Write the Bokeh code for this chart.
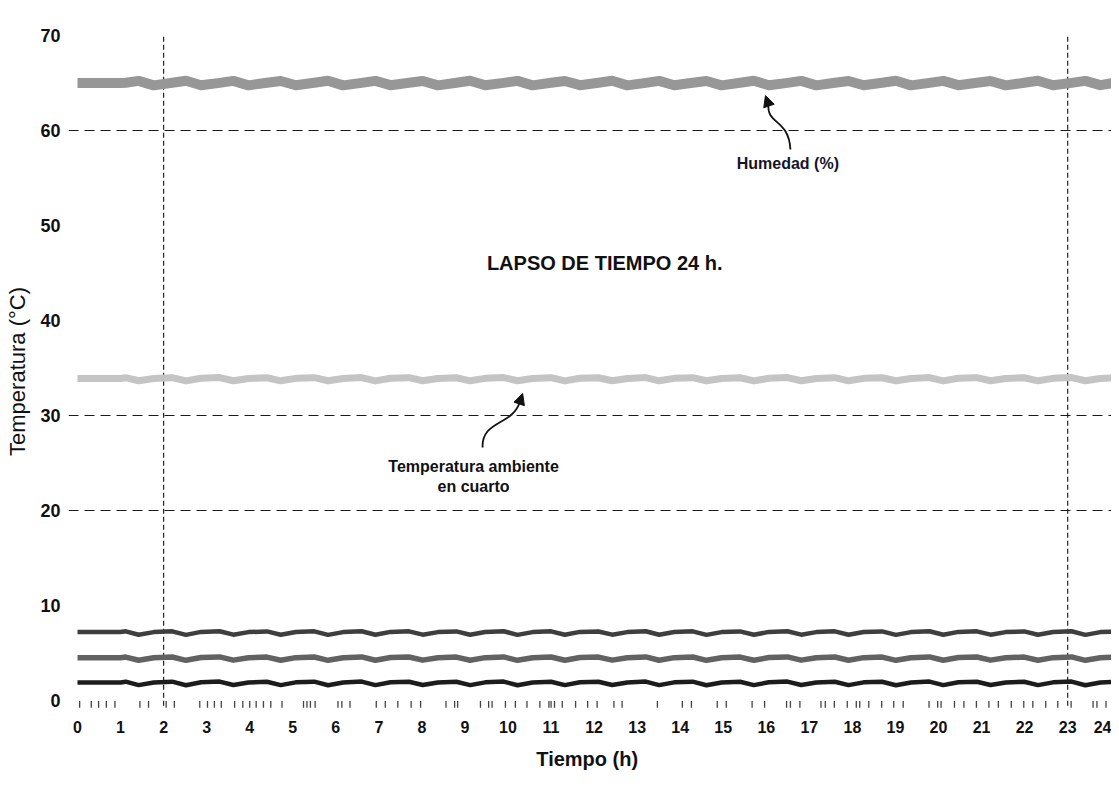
from bokeh.plotting import figure
from bokeh.models import Range1d, FixedTicker, Span, Label, Arrow, NormalHead
from bokeh.embed import file_html
from bokeh.resources import INLINE

# ---------------- data ----------------
hours = [0.0, 0.5, 1.0, 1.12,
         1.42, 1.77, 2.20,
         2.52, 2.87, 3.30,
         3.62, 3.97, 4.40,
         4.72, 5.07, 5.50,
         5.82, 6.17, 6.60,
         6.92, 7.27, 7.70,
         8.02, 8.37, 8.80,
         9.12, 9.47, 9.90,
         10.22, 10.57, 11.00,
         11.32, 11.67, 12.10,
         12.42, 12.77, 13.20,
         13.51, 13.86, 14.29,
         14.61, 14.96, 15.39,
         15.71, 16.06, 16.49,
         16.81, 17.16, 17.59,
         17.91, 18.26, 18.69,
         19.01, 19.36, 19.79,
         20.11, 20.46, 20.89,
         21.21, 21.56, 21.99,
         22.31, 22.66, 23.09,
         23.41, 23.76, 24.05]

humedad = [65.00, 65.00, 65.00, 65.02,
           65.22, 64.75, 65.02,
           65.24, 64.76, 65.01,
           65.22, 64.75, 65.03,
           65.21, 64.76, 65.02,
           65.23, 64.75, 65.01,
           65.22, 64.77, 65.03,
           65.21, 64.75, 65.02,
           65.24, 64.76, 65.01,
           65.22, 64.75, 65.03,
           65.21, 64.77, 65.02,
           65.23, 64.75, 65.01,
           65.22, 64.76, 65.03,
           65.21, 64.75, 65.02,
           65.24, 64.77, 65.01,
           65.22, 64.75, 65.03,
           65.21, 64.76, 65.02,
           65.23, 64.75, 65.01,
           65.22, 64.77, 65.03,
           65.21, 64.75, 65.02,
           65.24, 64.76, 65.01,
           65.22, 64.77, 65.00]

temp_ambiente = [33.90, 33.90, 33.90, 33.98,
                 33.66, 33.90, 33.98,
                 33.64, 33.92, 33.99,
                 33.66, 33.90, 33.97,
                 33.65, 33.91, 33.98,
                 33.66, 33.90, 33.99,
                 33.64, 33.92, 33.98,
                 33.66, 33.90, 33.97,
                 33.65, 33.91, 33.99,
                 33.66, 33.90, 33.98,
                 33.64, 33.92, 33.97,
                 33.66, 33.90, 33.99,
                 33.65, 33.91, 33.98,
                 33.66, 33.90, 33.97,
                 33.64, 33.92, 33.99,
                 33.66, 33.90, 33.98,
                 33.65, 33.91, 33.97,
                 33.66, 33.90, 33.99,
                 33.64, 33.92, 33.98,
                 33.66, 33.90, 33.97,
                 33.65, 33.91, 33.99,
                 33.66, 33.90, 33.95]

serie_alta = [7.20, 7.20, 7.20, 7.28,
              6.92, 7.20, 7.28,
              6.91, 7.22, 7.29,
              6.93, 7.20, 7.27,
              6.92, 7.21, 7.28,
              6.91, 7.20, 7.29,
              6.92, 7.22, 7.28,
              6.93, 7.20, 7.27,
              6.92, 7.21, 7.29,
              6.91, 7.20, 7.28,
              6.92, 7.22, 7.27,
              6.93, 7.20, 7.29,
              6.92, 7.21, 7.28,
              6.91, 7.20, 7.27,
              6.92, 7.22, 7.29,
              6.93, 7.20, 7.28,
              6.92, 7.21, 7.27,
              6.91, 7.20, 7.29,
              6.92, 7.22, 7.28,
              6.93, 7.20, 7.27,
              6.92, 7.21, 7.29,
              6.91, 7.20, 7.25]

serie_media = [4.50, 4.50, 4.50, 4.57,
               4.24, 4.50, 4.58,
               4.23, 4.52, 4.59,
               4.25, 4.50, 4.57,
               4.24, 4.51, 4.58,
               4.23, 4.50, 4.59,
               4.24, 4.52, 4.58,
               4.25, 4.50, 4.57,
               4.24, 4.51, 4.59,
               4.23, 4.50, 4.58,
               4.24, 4.52, 4.57,
               4.25, 4.50, 4.59,
               4.24, 4.51, 4.58,
               4.23, 4.50, 4.57,
               4.24, 4.52, 4.59,
               4.25, 4.50, 4.58,
               4.24, 4.51, 4.57,
               4.23, 4.50, 4.59,
               4.24, 4.52, 4.58,
               4.25, 4.50, 4.57,
               4.24, 4.51, 4.59,
               4.23, 4.50, 4.55]

serie_baja = [1.90, 1.90, 1.90, 1.98,
              1.62, 1.90, 1.98,
              1.61, 1.92, 1.99,
              1.63, 1.90, 1.97,
              1.62, 1.91, 1.98,
              1.61, 1.90, 1.99,
              1.62, 1.92, 1.98,
              1.63, 1.90, 1.97,
              1.62, 1.91, 1.99,
              1.61, 1.90, 1.98,
              1.62, 1.92, 1.97,
              1.63, 1.90, 1.99,
              1.62, 1.91, 1.98,
              1.61, 1.90, 1.97,
              1.62, 1.92, 1.99,
              1.63, 1.90, 1.98,
              1.62, 1.91, 1.97,
              1.61, 1.90, 1.99,
              1.62, 1.92, 1.98,
              1.63, 1.90, 1.97,
              1.62, 1.91, 1.99,
              1.61, 1.90, 1.95]

# irregular sample marks along the time axis
rug_hours = [0.05, 0.32, 0.49, 0.67, 0.87, 1.45, 1.65, 2.06, 2.25, 2.84, 3.02,
             3.18, 3.34, 3.65, 3.84, 4.00, 4.15, 4.32, 4.49, 4.75, 5.25, 5.33,
             5.41, 5.52, 6.05, 6.14, 6.33, 6.94, 7.15, 7.44, 7.75, 7.97, 8.56,
             8.76, 8.83, 9.36, 9.55, 9.63, 9.94, 10.17, 10.44, 10.74, 10.95,
             11.00, 11.08, 11.26, 11.57, 11.85, 12.07, 12.46, 12.65, 13.47,
             14.05, 14.26, 14.86, 15.07, 15.67, 15.96, 16.47, 16.56, 16.78,
             17.27, 17.37, 17.58, 17.88, 18.09, 18.17, 18.38, 18.68, 18.96,
             19.18, 19.78, 19.98, 20.06, 20.37, 20.59, 20.88, 21.17, 21.39,
             21.69, 21.98, 22.19, 22.49, 22.77, 23.08, 23.59, 23.68, 23.89]

x_ticks = list(range(0, 25))
y_ticks = [0, 10, 20, 30, 40, 50, 60, 70]
h_ref_lines = [20, 30, 60]
v_ref_lines = [2, 23]

title_text = "LAPSO DE TIEMPO  24 h."
label_humedad = "Humedad (%)"
label_temp = "Temperatura ambiente\nen cuarto"

FONT = "Liberation Sans"

p = figure(width=1111, height=779, output_backend="svg", toolbar_location=None,
           x_range=Range1d(-0.209, 24.018), y_range=Range1d(-1.263, 70.526),
           min_border_left=68, min_border_right=0, min_border_top=30,
           min_border_bottom=67)
p.outline_line_color = None
p.background_fill_color = "white"
p.border_fill_color = "white"
p.xgrid.visible = False
p.ygrid.visible = False

for ax in (p.xaxis[0], p.yaxis[0]):
    ax.axis_line_color = None
    ax.major_tick_line_color = None
    ax.minor_tick_line_color = None
    ax.major_tick_out = 0
    ax.major_tick_in = 0
    ax.major_label_text_font = FONT
    ax.major_label_text_font_style = "bold"
    ax.major_label_text_color = "#111111"
    ax.axis_label_text_font = FONT
    ax.axis_label_text_color = "#111111"

p.xaxis.ticker = FixedTicker(ticks=x_ticks)
p.yaxis.ticker = FixedTicker(ticks=y_ticks)
p.xaxis.major_label_text_font_size = "16px"
p.yaxis.major_label_text_font_size = "18px"
p.xaxis.major_label_standoff = 8
p.yaxis.major_label_standoff = 8
p.xaxis.axis_label = "Tiempo  (h)"
p.xaxis.axis_label_text_font_size = "20px"
p.xaxis.axis_label_text_font_style = "bold"
p.xaxis.axis_label_standoff = 12
p.yaxis.axis_label = "Temperatura (°C)"
p.yaxis.axis_label_text_font_size = "22px"
p.yaxis.axis_label_text_font_style = "normal"
p.yaxis.axis_label_standoff = 7

# reference dashed lines
for yv in h_ref_lines:
    p.add_layout(Span(location=yv, dimension="width", line_color="#1a1a1a",
                      line_dash="10 6", line_width=1.2))
p.segment(x0=v_ref_lines, y0=[-0.55] * len(v_ref_lines), x1=v_ref_lines,
          y1=[70] * len(v_ref_lines), line_color="#222222", line_dash="5 3",
          line_width=1.2)

# sample marks
p.segment(x0=rug_hours, y0=[-0.05] * len(rug_hours), x1=rug_hours,
          y1=[-0.75] * len(rug_hours), line_color="#444444", line_width=1.3)

# series
p.line(hours, humedad, line_color="#979797", line_width=10, line_join="round")
p.line(hours, temp_ambiente, line_color="#c4c4c4", line_width=7, line_join="round")
p.line(hours, serie_alta, line_color="#3e3e3e", line_width=4.5, line_join="round")
p.line(hours, serie_media, line_color="#626262", line_width=5.5, line_join="round")
p.line(hours, serie_baja, line_color="#1c1c1c", line_width=4.5, line_join="round")

# annotation texts
p.add_layout(Label(x=12.31, y=46.1, text=title_text, text_font=FONT,
                   text_font_size="20px", text_font_style="bold",
                   text_color="#111111", text_align="center",
                   text_baseline="middle"))
p.add_layout(Label(x=16.5, y=56.5, text=label_humedad, text_font=FONT,
                   text_font_size="16px", text_font_style="bold",
                   text_color="#14142a", text_align="center",
                   text_baseline="middle"))
p.add_layout(Label(x=9.2, y=23.6, text=label_temp, text_font=FONT,
                   text_font_size="16px", text_font_style="bold",
                   text_color="#111111", text_align="center",
                   text_baseline="middle", text_line_height=1.2))

# curved arrows
arrow_hum = dict(x0=16.56, y0=58.0, cx0=16.52, cy0=61.26, cx1=16.0, cy1=60.63,
                 x1=16.05, y1=62.74, tx=15.98, ty=63.68)
arrow_tmp = dict(x0=9.41, y0=26.63, cx0=9.38, cy0=29.47, cx1=10.10, cy1=28.95,
                 x1=10.27, y1=31.37, tx=10.34, ty=32.32)
for a in (arrow_hum, arrow_tmp):
    p.bezier(x0=[a["x0"]], y0=[a["y0"]], x1=[a["x1"]], y1=[a["y1"]],
             cx0=[a["cx0"]], cy0=[a["cy0"]], cx1=[a["cx1"]], cy1=[a["cy1"]],
             line_color="#111111", line_width=1.8)
    p.add_layout(Arrow(end=NormalHead(size=11, fill_color="#111111",
                                      line_color="#111111"),
                       x_start=a["x1"], y_start=a["y1"], x_end=a["tx"],
                       y_end=a["ty"], line_color="#111111", line_width=1.8))

open("out.html", "w").write(file_html(p, INLINE))
